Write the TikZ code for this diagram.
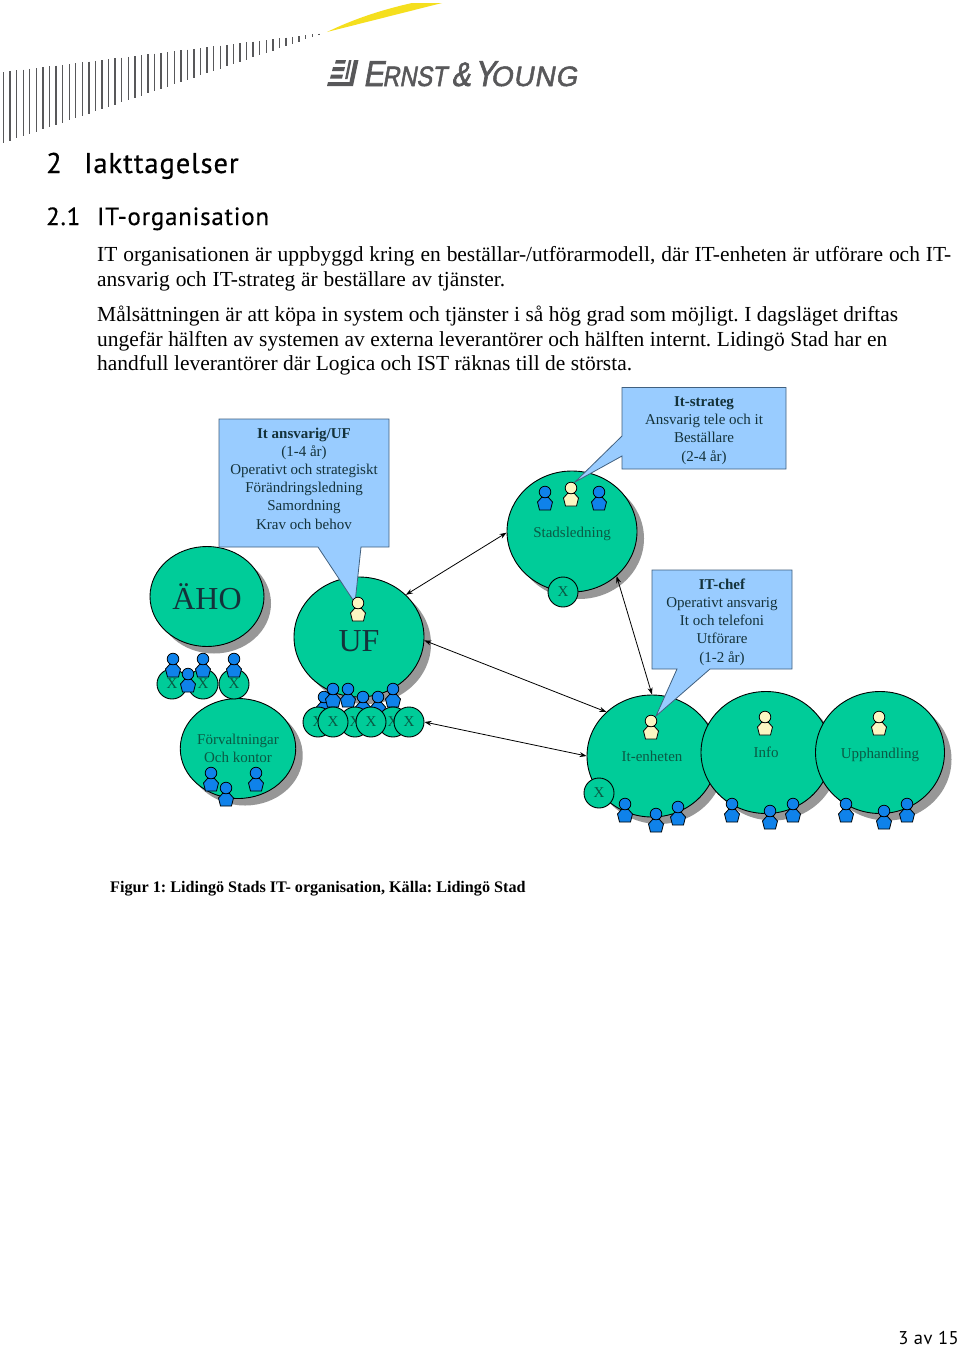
\documentclass[tikz,border=0pt]{standalone}
\usepackage{fontspec}
\usepackage{xcolor}
\usepackage{tikz}
\usetikzlibrary{arrows.meta,shadows,shapes.geometric}
\setmainfont{Liberation Serif}
\newfontfamily\headfont[LetterSpace=3.4,FakeBold=0.5]{PT Sans}
\newfontfamily\pagefont[LetterSpace=3]{PT Sans}
\newfontfamily\logofont[FakeSlant=0.18,FakeStretch=0.84,FakeBold=1.8]{Liberation Sans}
\newfontfamily\logowide[FakeSlant=0.18,LetterSpace=3,FakeBold=1.8]{Liberation Sans}
\definecolor{orggreen}{HTML}{00CC99}
\definecolor{shade}{HTML}{979797}
\definecolor{staff}{HTML}{0F82EA}
\definecolor{lead}{HTML}{FBF6C2}
\definecolor{bubble}{HTML}{99CCFF}
\definecolor{rim}{HTML}{41607F}
\definecolor{ink}{HTML}{14323A}
\definecolor{leaf}{HTML}{0A5A44}
\definecolor{logo}{HTML}{58585A}
\definecolor{wedge}{HTML}{F5DF1E}
\tikzset{
  orgnode/.style={ellipse, draw=black, fill=orggreen, line width=0.9pt, inner sep=0pt,
                  align=center, text=leaf, font=\fontsize{15}{18}\selectfont,
                  copy shadow={shadow xshift=7pt, shadow yshift=-7pt, fill=shade, draw=none}},
  bignode/.style={orgnode, text=ink, font=\fontsize{32}{36}\selectfont},
  xnode/.style={circle, draw=black, fill=orggreen, line width=0.9pt, inner sep=0pt,
                minimum size=30pt, text=leaf, font=\fontsize{15}{18}\selectfont},
  callout/.style={draw=rim, fill=bubble, line width=0.8pt, line join=miter},
  calltext/.style={align=center, text=ink, font=\fontsize{15}{18.2}\selectfont},
  body/.style={anchor=base west, font=\frenchspacing\fontsize{21.45}{24}\selectfont, text=black},
  headone/.style={anchor=base west, font=\headfont\fontsize{28.5}{30}\selectfont},
  headtwo/.style={anchor=base west, font=\headfont\fontsize{24.8}{28}\selectfont},
  fl/.style={{Stealth[length=7pt,width=5pt]}-{Stealth[length=7pt,width=5pt]}, draw=black, line width=0.8pt},
  figure/.style={line width=0.8pt, draw=black}
}
\newcommand{\person}[3]{
  \begin{scope}[shift={(#1,#2)}]
    \filldraw[figure, fill=#3] (-3.5,5.5) -- (3.5,5.5) -- (7.5,10) -- (5.5,18) -- (-5.5,18) -- (-7.5,10) -- cycle;
    \filldraw[figure, fill=#3] (0,0) circle (5.8pt);
  \end{scope}
}
\newcommand{\textline}[2]{\makebox[#1pt][s]{#2}}

\begin{document}
\begin{tikzpicture}[x=1pt,y=-1pt]
  \useasboundingbox (0,0) rectangle (960,1347);
  \fill[white] (0,0) rectangle (960,1347);

  % letterhead
  \foreach \i in {0,...,48}{
    \pgfmathsetmacro{\xa}{3.5+6.57*\i}
    \draw[logo, line width=1.4pt] (\xa,{72-0.1215*6.57*\i}) -- (\xa,{143-0.343*6.57*\i});
  }
  \fill[wedge] (327,32) .. controls (360,16) and (390,8) .. (412,3) -- (442,3) -- cycle;
  \fill[logo] (336,60) -- (346,60) -- (345,63.5) -- (335,63.5) -- cycle;
  \fill[logo] (333,67) -- (345,67) -- (344,71) -- (332,71) -- cycle;
  \fill[logo] (331,74.5) -- (343,74.5) -- (342,78.5) -- (330,78.5) -- cycle;
  \fill[logo] (349,60) -- (351.5,60) -- (347.5,79) -- (345,79) -- cycle;
  \fill[logo] (354,60) -- (358.5,60) -- (353,86) -- (327,86) -- (328,82) -- (349.5,82) -- cycle;
  \node[anchor=base west, inner sep=0pt, text=logo, font=\logofont] (brand) at (363,86)
    {\fontsize{36}{36}\selectfont E\kern-1pt\fontsize{28}{36}\selectfont RNST\kern5pt\fontsize{34}{36}\selectfont\&\kern4pt\fontsize{36}{36}\selectfont Y\kern-4pt\logowide\fontsize{28}{36}\selectfont OUNG};

  % headings and text
  \node[headone, inner sep=0pt] (chapno) at (46,173) {2};
  \node[headone, inner sep=0pt] (chap) at (84,173) {Iakttagelser};
  \node[headtwo, inner sep=0pt] (secno) at (46,225) {2.1};
  \node[headtwo, inner sep=0pt] (sec) at (97,225) {IT-organisation};
  \node[body, inner sep=0pt] (lineA) at (97,261) {\textline{854}{IT organisationen är uppbyggd kring en beställar-/utförarmodell, där IT-enheten är utförare och IT-}};
  \node[body, inner sep=0pt] (lineB) at (97,286) {\textline{408}{ansvarig och IT-strateg är beställare av tjänster.}};
  \node[body, inner sep=0pt] (lineC) at (97,321) {\textline{801}{Målsättningen är att köpa in system och tjänster i så hög grad som möjligt. I dagsläget driftas}};
  \node[body, inner sep=0pt] (lineD) at (97,346) {\textline{790}{ungefär hälften av systemen av externa leverantörer och hälften internt. Lidingö Stad har en}};
  \node[body, inner sep=0pt] (lineE) at (97,370) {handfull leverantörer där Logica och IST räknas till de största.};

  % circles
  \node[bignode, minimum width=114pt, minimum height=100pt] (aho) at (207,596.5) {ÄHO};
  \node[bignode, minimum width=130pt, minimum height=120pt, text height=28pt, text depth=0pt] (uf) at (359,637) {UF};
  \node[orgnode, minimum width=114pt, minimum height=100pt] (forv) at (238,748.5) {Förvaltningar\\Och kontor};
  \node[orgnode, minimum width=130pt, minimum height=121pt, text height=11.3pt, text depth=0pt] (stad) at (572,531.5) {Stadsledning};
  \node[orgnode, minimum width=130pt, minimum height=122pt] (itenh) at (652,756) {It-enheten};
  \node[orgnode, minimum width=130pt, minimum height=122pt] (info) at (766,752.5) {Info};
  \node[orgnode, minimum width=129pt, minimum height=122pt, text height=11.3pt, text depth=0pt] (upph) at (880,752.5) {Upphandling};

  % callouts
  \draw[callout] (219,419) -- (389,419) -- (389,547) -- (361,547) -- (355,603) -- (318,547) -- (219,547) -- cycle;
  \node[calltext] (ansv) at (304,478.5) {\textbf{It ansvarig/UF}\\(1-4 år)\\Operativt och strategiskt\\Förändringsledning\\Samordning\\Krav och behov};
  \draw[callout] (622,387.5) -- (786,387.5) -- (786,469) -- (622,469) -- (622,456) -- (575,482) -- (622,436) -- cycle;
  \node[calltext] (strat) at (704,430.5) {\textbf{It-strateg}\\Ansvarig tele och it\\Beställare\\(2-4 år)};
  \draw[callout] (652,570) -- (792,570) -- (792,669) -- (710,669) -- (656,716) -- (677,669) -- (652,669) -- cycle;
  \node[calltext] (chef) at (722,622) {\textbf{IT-chef}\\Operativt ansvarig\\It och telefoni\\Utförare\\(1-2 år)};

  % persons inside circles
  \person{545}{492}{staff}
  \person{571}{488}{lead}
  \person{599}{492}{staff}
  \person{358}{603}{lead}
  \person{651}{721}{lead}
  \person{765}{717}{lead}
  \person{879}{717}{lead}
  \foreach \px/\py in {211/773,256/773,226/788,625/804,678/807,656/814,732/804,793/804,770/811,846/804,907/804,884/811}{
    \person{\px}{\py}{staff}
  }

  % AHO group
  \foreach \n/\px in {a/172,b/203,c/234}
    \node[xnode] (ahox\n) at (\px,684) {X};
  \foreach \px/\py in {173/659,203/659,234/659,188/674}{
    \person{\px}{\py}{staff}
  }

  % UF group
  \foreach \px/\py in {324/697,363/697,378/697,333/689,348/689,393/689}{
    \person{\px}{\py}{staff}
  }
  \foreach \n/\px in {a/318,c/355,e/393,b/333,d/371,f/409}
    \node[xnode] (ufx\n) at (\px,722) {X};

  \node[xnode] (stadx) at (563,592) {X};
  \node[xnode] (itx) at (599,793) {X};

  % connectors
  \draw[fl] (uf.42) -- (stad.181);
  \draw[fl] (uf.-3) -- (itenh.136);
  \draw[fl] (ufxf.east) -- (itenh.180);
  \draw[fl] (stad.-45) -- (itenh.90);

  % caption and page number
  \node[anchor=base west, inner sep=0pt, font=\frenchspacing\bfseries\fontsize{16.15}{20}\selectfont] (caption) at (110,892) {Figur 1: Lidingö Stads IT- organisation, Källa: Lidingö Stad};
  \node[anchor=base east, inner sep=0pt, font=\pagefont\fontsize{18.5}{20}\selectfont] (pageno) at (959,1344) {3 av 15};
\end{tikzpicture}
\end{document}
